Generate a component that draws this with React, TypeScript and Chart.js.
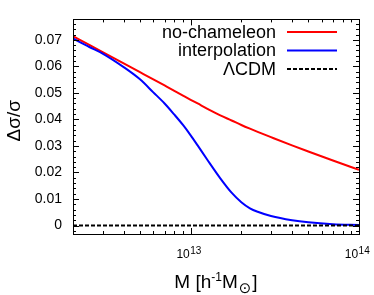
import React, { useEffect, useRef } from 'react';
import { Chart, registerables } from 'chart.js';

Chart.register(...registerables);

// ---- data ----
const massValues = [2e12, 2.5e12, 3e12, 4e12, 5e12, 6e12, 7e12, 8e12, 9e12, 1e13, 1.1e13, 1.25e13, 1.5e13, 1.75e13, 2e13, 2.25e13, 2.5e13, 3e13, 4e13, 5e13, 7e13, 1e14];
const noChameleon = [0.0714, 0.0681, 0.0654, 0.0611, 0.0578, 0.0551, 0.0528, 0.0508, 0.0490, 0.0474, 0.0460, 0.0441, 0.0415, 0.0396, 0.0379, 0.0365, 0.0353, 0.0333, 0.0302, 0.0279, 0.0245, 0.0210];
const interpolation = [0.0705, 0.0673, 0.0648, 0.0597, 0.0551, 0.0502, 0.0460, 0.0418, 0.0379, 0.0340, 0.0302, 0.0250, 0.0178, 0.0124, 0.0088, 0.0065, 0.0052, 0.0036, 0.0020, 0.0012, 0.0005, 0.0002];
const lcdmMass = [2e12, 1e14];
const lcdmValues = [0, 0];

const seriesLabels = ['no-chameleon', 'interpolation', 'ΛCDM'];
const seriesColors = ['#ff0000', '#0000ff', '#000000'];

const yTickValues = [0, 0.01, 0.02, 0.03, 0.04, 0.05, 0.06, 0.07];
const xMajorTicks = [1e13, 1e14];
const xTickBase = '10';
const xTickExponents = ['13', '14'];
const yTitle = 'Δσ/σ';
const xTitleParts = { main1: 'M [h', sup: '-1', main2: 'M', sub: '⊙', main3: ']' };

const FONT = '"Liberation Sans", Arial, Helvetica, sans-serif';

const decorPlugin = {
  id: 'gnuplotDecor',
  afterDraw(chart: any) {
    const ctx = chart.ctx as CanvasRenderingContext2D;
    const area = chart.chartArea;
    const xs = chart.scales.x;
    const ys = chart.scales.y;
    ctx.save();
    ctx.strokeStyle = '#000';
    ctx.fillStyle = '#000';
    ctx.lineWidth = 1;

    // frame
    ctx.strokeRect(Math.round(area.left) + 0.5, Math.round(area.top) + 0.5,
      Math.round(area.right - area.left), Math.round(area.bottom - area.top));

    // y ticks (major + minor), mirrored
    const yMin = ys.min, yMax = ys.max;
    for (let k = Math.ceil(yMin / 0.002); k * 0.002 <= yMax; k++) {
      const v = k * 0.002;
      const isMajor = k % 5 === 0;
      const len = isMajor ? 6 : 3;
      const py = Math.round(ys.getPixelForValue(v)) + 0.5;
      ctx.beginPath();
      ctx.moveTo(area.left, py); ctx.lineTo(area.left + len, py);
      ctx.moveTo(area.right, py); ctx.lineTo(area.right - len, py);
      ctx.stroke();
    }
    // x ticks (log)
    for (let e = 12; e <= 14; e++) {
      for (let m = 1; m <= 9; m++) {
        const v = m * Math.pow(10, e);
        if (v < xs.min * 0.999 || v > xs.max * 1.001) continue;
        const len = m === 1 ? 6 : 3;
        const px = Math.round(xs.getPixelForValue(v)) + 0.5;
        ctx.beginPath();
        ctx.moveTo(px, area.bottom); ctx.lineTo(px, area.bottom - len);
        ctx.moveTo(px, area.top); ctx.lineTo(px, area.top + len);
        ctx.stroke();
      }
    }

    // x tick labels: 10^n
    ctx.textBaseline = 'alphabetic';
    ctx.textAlign = 'left';
    xMajorTicks.forEach((v, i) => {
      const px = xs.getPixelForValue(v);
      ctx.font = `12px ${FONT}`;
      const wBase = ctx.measureText(xTickBase).width;
      ctx.font = `10px ${FONT}`;
      const wExp = ctx.measureText(xTickExponents[i]).width;
      const x0 = px - (wBase + wExp) / 2 - 2;
      const base = area.bottom + 24;
      ctx.font = `12px ${FONT}`;
      ctx.fillText(xTickBase, x0, base);
      ctx.font = `10px ${FONT}`;
      ctx.fillText(xTickExponents[i], x0 + wBase + 0.5, base - 4.5);
    });

    // x title
    {
      const big = `19px ${FONT}`;
      const small = `12px ${FONT}`;
      const subF = `15px "DejaVu Sans", ${FONT}`;
      ctx.font = big;
      const w1 = ctx.measureText(xTitleParts.main1).width;
      const w2 = ctx.measureText(xTitleParts.main2).width;
      const w3 = ctx.measureText(xTitleParts.main3).width;
      ctx.font = small;
      const ws = ctx.measureText(xTitleParts.sup).width;
      ctx.font = subF;
      const wsub = ctx.measureText(xTitleParts.sub).width;
      const total = w1 + ws + w2 + wsub + w3 + 2;
      let x = (area.left + area.right) / 2 - total / 2;
      const base = area.bottom + 54;
      ctx.font = big; ctx.fillText(xTitleParts.main1, x, base); x += w1;
      ctx.font = small; ctx.fillText(xTitleParts.sup, x, base - 7); x += ws;
      ctx.font = big; ctx.fillText(xTitleParts.main2, x, base); x += w2 + 1;
      ctx.font = subF; ctx.fillText(xTitleParts.sub, x, base + 5); x += wsub + 1;
      ctx.font = big; ctx.fillText(xTitleParts.main3, x, base);
    }

    // y title
    ctx.save();
    ctx.translate(area.left - 58, (area.top + area.bottom) / 2 - 6);
    ctx.rotate(-Math.PI / 2);
    ctx.font = `19px ${FONT}`;
    ctx.textAlign = 'center';
    ctx.textBaseline = 'middle';
    ctx.fillText(yTitle, 0, 0);
    ctx.restore();

    // legend (gnuplot style: text right-aligned, sample to the right)
    ctx.font = `18px ${FONT}`;
    ctx.textAlign = 'right';
    ctx.textBaseline = 'middle';
    seriesLabels.forEach((label, i) => {
      const cy = area.top + 12.5 + i * 18.5;
      ctx.fillStyle = '#000';
      ctx.fillText(label, area.right - 83, cy + 1);
      ctx.beginPath();
      ctx.strokeStyle = seriesColors[i];
      ctx.lineWidth = 2;
      ctx.setLineDash(i === 2 ? [4, 2] : []);
      ctx.moveTo(area.right - 72, cy);
      ctx.lineTo(area.right - 22, cy);
      ctx.stroke();
      ctx.setLineDash([]);
    });
    ctx.restore();
  },
};

export default function App() {
  const canvasRef = useRef<HTMLCanvasElement | null>(null);

  useEffect(() => {
    if (!canvasRef.current) return;
    const chart = new Chart(canvasRef.current, {
      type: 'line',
      data: {
        datasets: [
          {
            label: seriesLabels[0],
            data: massValues.map((m, i) => ({ x: m, y: noChameleon[i] })),
            borderColor: seriesColors[0],
            borderWidth: 2,
            pointRadius: 0,
            cubicInterpolationMode: 'monotone',
            order: 2,
          },
          {
            label: seriesLabels[1],
            data: massValues.map((m, i) => ({ x: m, y: interpolation[i] })),
            borderColor: seriesColors[1],
            borderWidth: 2,
            pointRadius: 0,
            cubicInterpolationMode: 'monotone',
            order: 1,
          },
          {
            label: seriesLabels[2],
            data: lcdmMass.map((m, i) => ({ x: m, y: lcdmValues[i] })),
            borderColor: seriesColors[2],
            borderWidth: 2,
            borderDash: [4, 2],
            pointRadius: 0,
            order: 0,
          },
        ],
      },
      options: {
        animation: false,
        responsive: false,
        devicePixelRatio: 1,
        layout: { padding: { left: 0, top: 3, right: 15, bottom: 61 } },
        plugins: { legend: { display: false }, tooltip: { enabled: false } },
        scales: {
          x: {
            type: 'logarithmic',
            min: 2e12,
            max: 1e14,
            display: false,
          },
          y: {
            type: 'linear',
            min: -0.0032,
            max: 0.0777,
            afterFit: (s: any) => { s.width = 73; },
            afterBuildTicks: (s: any) => { s.ticks = yTickValues.map((v) => ({ value: v })); },
            grid: { display: false, drawTicks: false },
            border: { display: false },
            ticks: {
              padding: 11,
              color: '#000',
              font: { family: FONT, size: 14 },
              callback: (v: any) => (Number(v) === 0 ? '0' : Number(v).toFixed(2)),
            },
          },
        },
      },
      plugins: [decorPlugin],
    } as any);
    return () => chart.destroy();
  }, []);

  return (
    <div style={{ position: 'fixed', left: 0, top: 0, width: 374, height: 295, background: '#fff' }}>
      <canvas ref={canvasRef} width={374} height={295} />
    </div>
  );
}
